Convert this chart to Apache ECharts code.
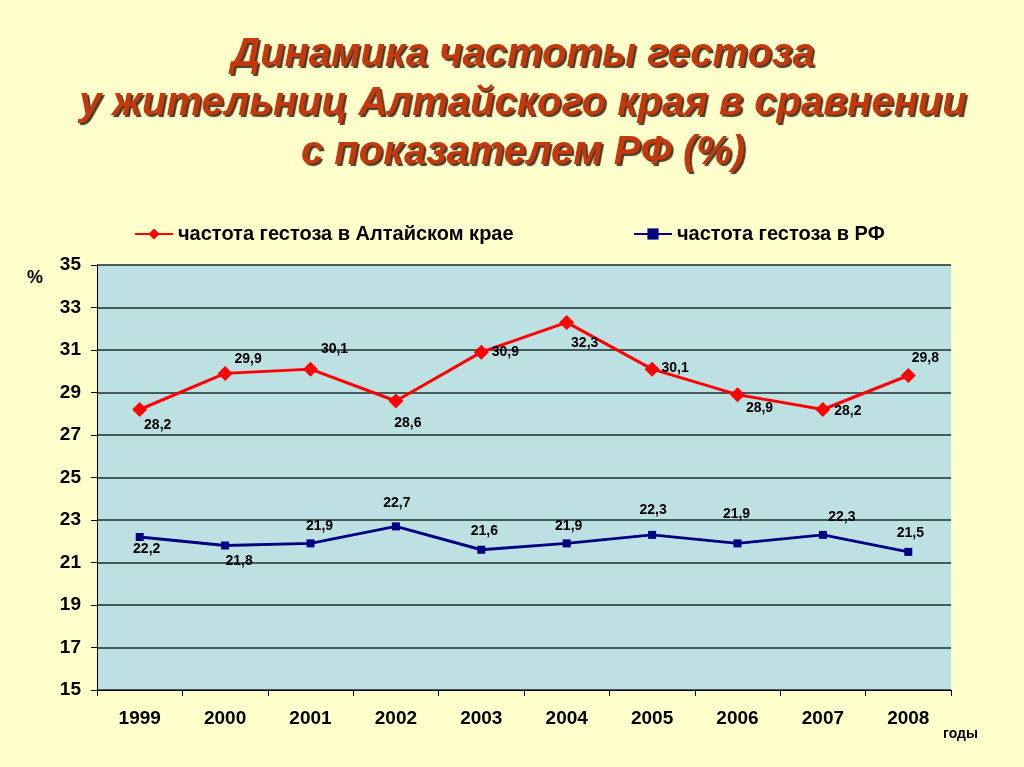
<!DOCTYPE html>
<html><head><meta charset="utf-8">
<script src="https://cdn.jsdelivr.net/npm/echarts@6/dist/echarts.min.js"></script>
<style>html,body{margin:0;padding:0;background:#FFFFCC;}#c{width:1024px;height:767px;}</style>
</head><body><div id="c"></div>
<script>
const years = ['1999','2000','2001','2002','2003','2004','2005','2006','2007','2008'];
const altai = [28.2, 29.9, 30.1, 28.6, 30.9, 32.3, 30.1, 28.9, 28.2, 29.8];
const rf = [22.2, 21.8, 21.9, 22.7, 21.6, 21.9, 22.3, 21.9, 22.3, 21.5];
const seriesNames = ['частота гестоза в Алтайском крае', 'частота гестоза в РФ'];

// label placement (style only)
const altaiLabelOffsets = [[18,16],[23,-14],[24,-20],[12,22],[24,0],[18,21],[23,-1],[22,14],[25,2],[17,-17]];
const rfLabelOffsets = [[7,12],[14,16],[9,-17],[1,-23],[3,-19],[2,-17],[1,-25],[-1,-29],[19,-18],[2,-19]];

const FF = 'Liberation Sans, Arial';
const fmt = p => String(p.value).replace('.', ',');
function withLabels(vals, offs){
  return vals.map((v,i)=>({value:v, label:{offset:offs[i]}}));
}
const chart = echarts.init(document.getElementById('c'));
chart.setOption({
  backgroundColor:'#FFFFCC',
  animation:false,
  title:{
    text:'Динамика частоты гестоза\nу жительниц Алтайского края в сравнении\nс показателем РФ (%)',
    left:518, top:25, textAlign:'center',
    textStyle:{fontFamily:FF, fontStyle:'italic', fontWeight:'bold', fontSize:40, lineHeight:49,
      color:'#C4380E', textShadowColor:'rgba(40,25,10,0.85)', textShadowOffsetX:2, textShadowOffsetY:2, textShadowBlur:1}
  },
  legend:[
    {data:[seriesNames[0]], left:129, top:219, itemWidth:38, itemHeight:14, itemGap:8,
     textStyle:{fontFamily:FF, fontSize:20, fontWeight:'bold', color:'#000'}},
    {data:[seriesNames[1]], left:628, top:219, itemWidth:38, itemHeight:14,
     textStyle:{fontFamily:FF, fontSize:20, fontWeight:'bold', color:'#000'}}
  ],
  graphic:[
    {type:'text', left:27, top:269, style:{text:'%', font:'bold 18px ' + FF, fill:'#000'}},
    {type:'text', left:943, top:727, style:{text:'годы', font:'bold 14px ' + FF, fill:'#000'}}
  ],
  grid:{left:97, right:73, top:265, bottom:77, show:true, backgroundColor:'#BDE0E3', borderWidth:0, outerBoundsMode:'none', containLabel:false},
  xAxis:{type:'category', data:years, boundaryGap:true,
    axisLine:{lineStyle:{color:'#000', width:1}},
    axisTick:{show:true, length:6, alignWithLabel:false, lineStyle:{color:'#000'}},
    axisLabel:{margin:19, fontFamily:FF, fontWeight:'bold', fontSize:19, color:'#000'}
  },
  yAxis:{type:'value', min:15, max:35, interval:2,
    axisLine:{show:true, lineStyle:{color:'#000', width:1}},
    axisTick:{show:true, length:6, lineStyle:{color:'#000'}},
    splitLine:{lineStyle:{color:'#1c2c2c', width:1.5}},
    axisLabel:{margin:16, fontFamily:FF, fontWeight:'bold', fontSize:19, color:'#000'}
  },
  series:[
    {name:seriesNames[0], type:'line', data:withLabels(altai, altaiLabelOffsets),
     symbol:'diamond', symbolSize:15, lineStyle:{color:'#FF0000', width:3}, itemStyle:{color:'#FF0000'},
     label:{show:true, position:'inside', formatter:fmt, fontFamily:FF, fontWeight:'bold', fontSize:14, color:'#000'}},
    {name:seriesNames[1], type:'line', data:withLabels(rf, rfLabelOffsets),
     symbol:'rect', symbolSize:8, lineStyle:{color:'#000080', width:3}, itemStyle:{color:'#000080'},
     label:{show:true, position:'inside', formatter:fmt, fontFamily:FF, fontWeight:'bold', fontSize:14, color:'#000'}}
  ]
});
</script></body></html>
